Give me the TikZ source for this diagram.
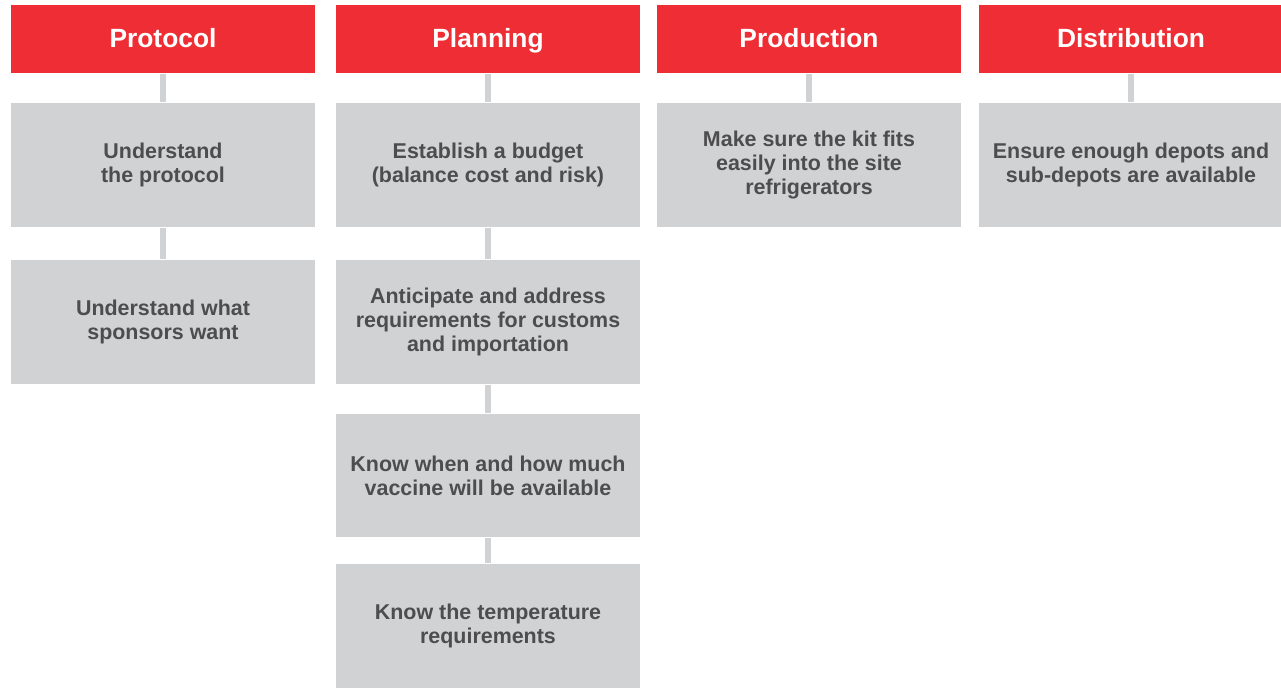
\documentclass[tikz,border=0pt]{standalone}
\usepackage{fontspec}
\setmainfont{Liberation Sans}
\usetikzlibrary{positioning}

\definecolor{headred}{HTML}{EE2E34}
\definecolor{boxgray}{HTML}{D1D2D4}
\definecolor{textgray}{HTML}{4D4D4F}

\tikzset{
  every picture/.style={line width=0.75pt},
  head/.style={fill=headred, text=white, minimum width=6.08cm, minimum height=1.36cm,
    inner sep=0pt, text height=2.4ex, text depth=0.5ex,
    font=\bfseries\fontsize{15}{18}\selectfont},
  task/.style={fill=boxgray, text=textgray, minimum width=6.08cm, minimum height=2.48cm,
    inner sep=0pt, align=center, font=\bfseries\fontsize{12.2}{13.6}\selectfont},
  link/.style={boxgray, line width=3.4pt}
}

\begin{document}
\begin{tikzpicture}[x=0.02cm, y=-0.02cm]
    \useasboundingbox (0,0) rectangle (1281,687);

    % column headers
    \node[head] (protocol) at (163,39) {Protocol};
    \node[head] (planning) at (488,39) {Planning};
    \node[head] (production) at (809,39) {Production};
    \node[head] (distribution) at (1131,39) {Distribution};

    % protocol column
    \node[task] (pro1) at (163,165) {Understand\\the protocol};
    \node[task] (pro2) at (163,322) {Understand what\\sponsors want};

    % planning column
    \node[task] (pla1) at (488,165) {Establish a budget\\(balance cost and risk)};
    \node[task] (pla2) at (488,322) {Anticipate and address\\requirements for customs\\and importation};
    \node[task] (pla3) at (488,475.5) {Know when and how much\\vaccine will be available};
    \node[task] (pla4) at (488,625.5) {Know the temperature\\requirements};

    % production and distribution
    \node[task] (prd1) at (809,165) {Make sure the kit fits\\easily into the site\\refrigerators};
    \node[task] (dis1) at (1131,165) {Ensure enough depots and\\sub-depots are available};

    % connectors
    \draw[link] (protocol) -- (pro1);
    \draw[link] (pro1) -- (pro2);
    \draw[link] (planning) -- (pla1);
    \draw[link] (pla1) -- (pla2);
    \draw[link] (pla2) -- (pla3);
    \draw[link] (pla3) -- (pla4);
    \draw[link] (production) -- (prd1);
    \draw[link] (distribution) -- (dis1);
\end{tikzpicture}
\end{document}
